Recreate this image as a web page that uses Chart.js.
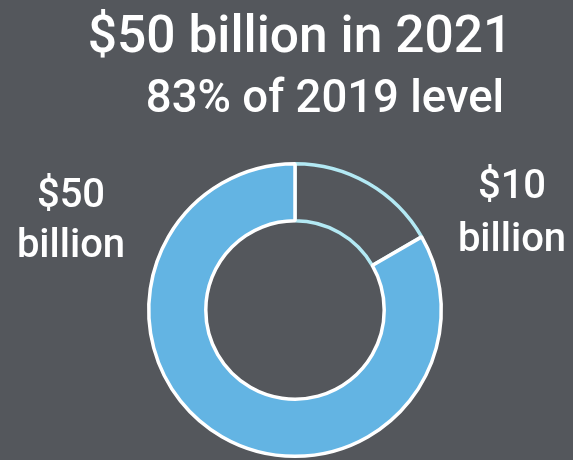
<!DOCTYPE html>
<html>
<head>
<meta charset="utf-8">
<script src="https://cdn.jsdelivr.net/npm/chart.js@4"></script>
<style>
    html, body { margin: 0; padding: 0; background: #54575c; }
    #wrap { position: relative; width: 573px; height: 460px; }
</style>
</head>
<body>
<div id="wrap"><canvas id="donutChart" width="573" height="460"></canvas></div>
<script>
// ==========================
// Data
// ==========================
const segments = ['Below 2019 level', '2021'];
const values = [10, 50];              // $ billion
const sliceColors = ['#54575c', '#63b4e3'];
const sliceBorders = ['#b3e9f4', '#ffffff'];
const titleLines = ['$50 billion in 2021', '83% of 2019 level'];

// ==========================
// Text plugin: headline + slice labels
// ==========================
const textPlugin = {
    id: 'donutText',
    afterDraw(chart) {
        const ctx = chart.ctx;
        ctx.save();
        ctx.fillStyle = '#ffffff';
        ctx.textAlign = 'center';
        ctx.textBaseline = 'alphabetic';

        ctx.font = '500 51.5px Roboto';
        ctx.fillText(titleLines[0], 300, 52);
        ctx.font = '500 45.5px Roboto';
        ctx.fillText(titleLines[1], 325, 112);

        // value labels, one per side of the ring
        ctx.font = '500 40px Roboto';
        const spots = [
            { x: 512, y1: 198, y2: 251 },   // $10 slice
            { x: 71, y1: 207, y2: 257 }     // $50 slice
        ];
        values.forEach((v, i) => {
            const s = spots[i];
            ctx.fillText(`$${v}`, s.x, s.y1);
            ctx.fillText('billion', s.x, s.y2);
        });
        ctx.restore();
    }
};

// ==========================
// Chart
// ==========================
window.addEventListener('DOMContentLoaded', () => {
    const ctx = document.getElementById('donutChart').getContext('2d');
    new Chart(ctx, {
        type: 'doughnut',
        data: {
            labels: segments,
            datasets: [{
                data: values,
                backgroundColor: sliceColors,
                borderColor: sliceBorders,
                borderWidth: 3.5
            }]
        },
        options: {
            responsive: false,
            animation: false,
            cutout: '61%',
            rotation: 0,
            layout: { padding: { left: 147, right: 130, top: 162, bottom: 2 } },
            plugins: {
                legend: { display: false },
                tooltip: { enabled: false }
            }
        },
        plugins: [textPlugin]
    });
});
</script>
</body>
</html>
